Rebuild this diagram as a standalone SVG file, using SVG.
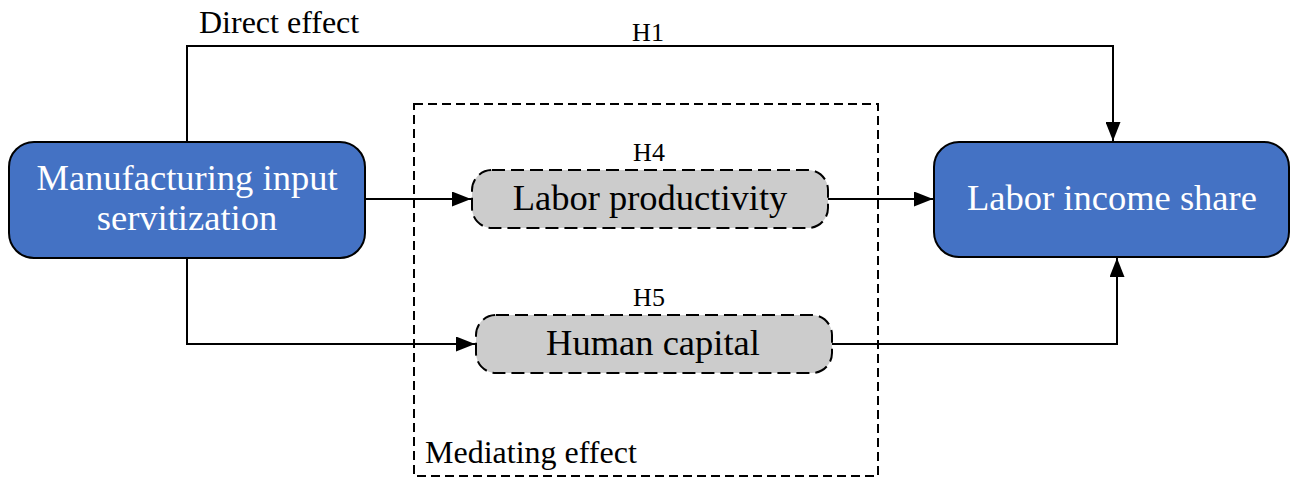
<svg xmlns="http://www.w3.org/2000/svg" width="1290" height="479" viewBox="0 0 1290 479">
<style>
.blue{fill:#4472C4;stroke:#000;stroke-width:2}
.grey{fill:#CCCCCC;stroke:#000;stroke-width:2;stroke-dasharray:13 6}
.ln{fill:none;stroke:#000;stroke-width:2}
.dash{fill:none;stroke:#000;stroke-width:2;stroke-dasharray:9 5}
text{font-family:'Liberation Serif','Times New Roman',serif}
.wt{font-size:36.5px;fill:#fff;text-anchor:middle}
.bt{font-size:36.5px;fill:#000;text-anchor:middle}
.lb{font-size:26px;fill:#000;text-anchor:middle}
.lg{font-size:32px;fill:#000}
</style>
<defs>
<marker id="ah" markerWidth="19" markerHeight="15" refX="19" refY="7.5" orient="auto" markerUnits="userSpaceOnUse">
<path d="M0,0 L19,7.5 L0,15 Z" fill="#000"/>
</marker>
</defs>
<g id="mediating-box">
<rect class="dash" x="414" y="104" width="464" height="372"/>
<text class="lg" x="425" y="463">Mediating effect</text>
</g>
<g id="connectors">
<path class="ln" d="M187,142 V46 H1113 V141" marker-end="url(#ah)"/>
<path class="ln" d="M365,199 H471" marker-end="url(#ah)"/>
<path class="ln" d="M828,199 H933" marker-end="url(#ah)"/>
<path class="ln" d="M187,258 V344 H475" marker-end="url(#ah)"/>
<path class="ln" d="M832,344 H1117 V258" marker-end="url(#ah)"/>
<text class="lg" x="199" y="33">Direct effect</text>
<text class="lb" x="648" y="41">H1</text>
<text class="lb" x="649" y="161">H4</text>
<text class="lb" x="649" y="306">H5</text>
</g>
<g id="node-mis">
<rect class="blue" x="9" y="142" width="356" height="116" rx="25"/>
<text class="wt" x="187" y="190">Manufacturing input</text>
<text class="wt" x="187" y="230">servitization</text>
</g>
<g id="node-lp">
<rect class="grey" x="472" y="170" width="356" height="58" rx="20"/>
<text class="bt" x="650" y="210">Labor productivity</text>
</g>
<g id="node-hc">
<rect class="grey" x="476" y="315" width="356" height="58" rx="20"/>
<text class="bt" x="653" y="355">Human capital</text>
</g>
<g id="node-lis">
<rect class="blue" x="934" y="142" width="355" height="115" rx="25"/>
<text class="wt" x="1112" y="210">Labor income share</text>
</g>
</svg>
